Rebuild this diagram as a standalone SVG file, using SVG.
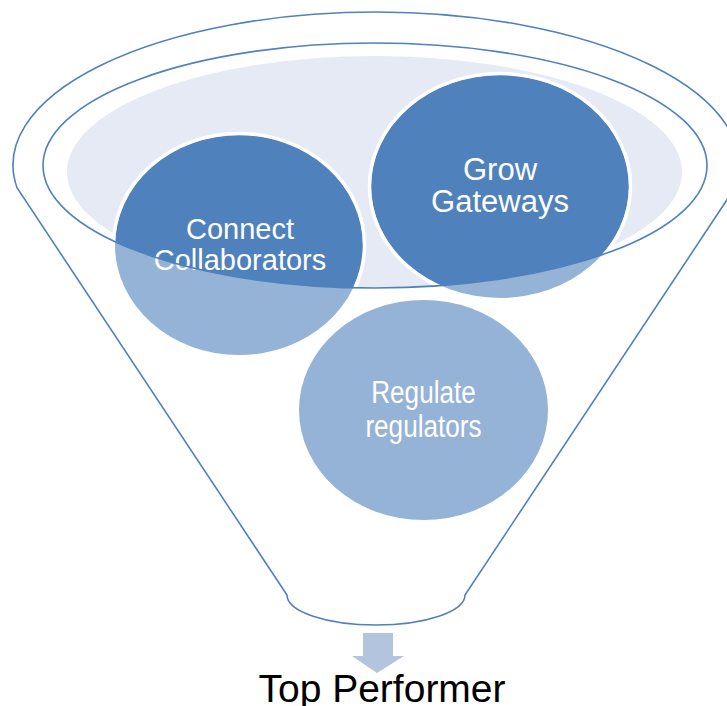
<svg xmlns="http://www.w3.org/2000/svg" width="727" height="706" viewBox="0 0 727 706">
  <style>
    .rim { fill: none; stroke: #4F81BD; stroke-width: 1.6; }
    .light { fill: #95B3D7; }
    .dark { fill: #4F81BD; }
    .ring { fill: none; stroke: #FFFFFF; stroke-width: 3.5; }
    .lbl { font-family: "Liberation Sans", Arial, sans-serif; fill: #FFFFFF; text-anchor: middle; }
  </style>
  <defs>
    <clipPath id="mouth">
      <ellipse cx="375" cy="165.5" rx="332" ry="122.5"/>
    </clipPath>
  </defs>
  <rect width="727" height="706" fill="#FFFFFF"/>

  <g id="funnel">
    <path class="rim" d="M17,187.7 A363,153 0 1 1 735,187.7 L465,595 A89,30 0 0 1 287,595 Z" fill="#FFFFFF"/>
    <ellipse cx="374.5" cy="172" rx="307.5" ry="116" fill="#E5EAF4"/>
  </g>

  <g id="node-regulate">
    <ellipse class="light" cx="423.5" cy="410" rx="124.5" ry="110"/>
    <text class="lbl" font-size="31.5" transform="translate(423.5,0) scale(0.83,1)"><tspan x="0" y="403">Regulate</tspan><tspan x="0" y="437">regulators</tspan></text>
  </g>

  <g id="node-connect">
    <ellipse class="light" cx="239" cy="245" rx="124" ry="110"/>
    <ellipse class="dark" cx="239" cy="245" rx="124" ry="110" clip-path="url(#mouth)"/>
    <ellipse class="ring" cx="239" cy="245" rx="125.5" ry="111.5" clip-path="url(#mouth)"/>
    <text class="lbl" font-size="29"><tspan x="240" y="239">Connect</tspan><tspan x="240" y="270">Collaborators</tspan></text>
  </g>

  <g id="node-grow">
    <ellipse class="light" cx="500" cy="186.5" rx="129" ry="111.5"/>
    <ellipse class="dark" cx="500" cy="186.5" rx="129" ry="111.5" clip-path="url(#mouth)"/>
    <ellipse class="ring" cx="500" cy="186.5" rx="130.5" ry="113" clip-path="url(#mouth)"/>
    <text class="lbl" font-size="31"><tspan x="500" y="180">Grow</tspan><tspan x="500" y="212">Gateways</tspan></text>
  </g>

  <g id="connectors">
    <ellipse class="rim" cx="375" cy="165.5" rx="332" ry="122.5"/>
    <path d="M363,633 L393,633 L393,656 L404,656 L377,673 L352,656 L363,656 Z" fill="#B3C4DF"/>
  </g>

  <g id="node-top">
    <text x="382" y="702" font-family="'Liberation Sans', Arial, sans-serif" font-size="39" fill="#000000" text-anchor="middle">Top Performer</text>
  </g>
</svg>
